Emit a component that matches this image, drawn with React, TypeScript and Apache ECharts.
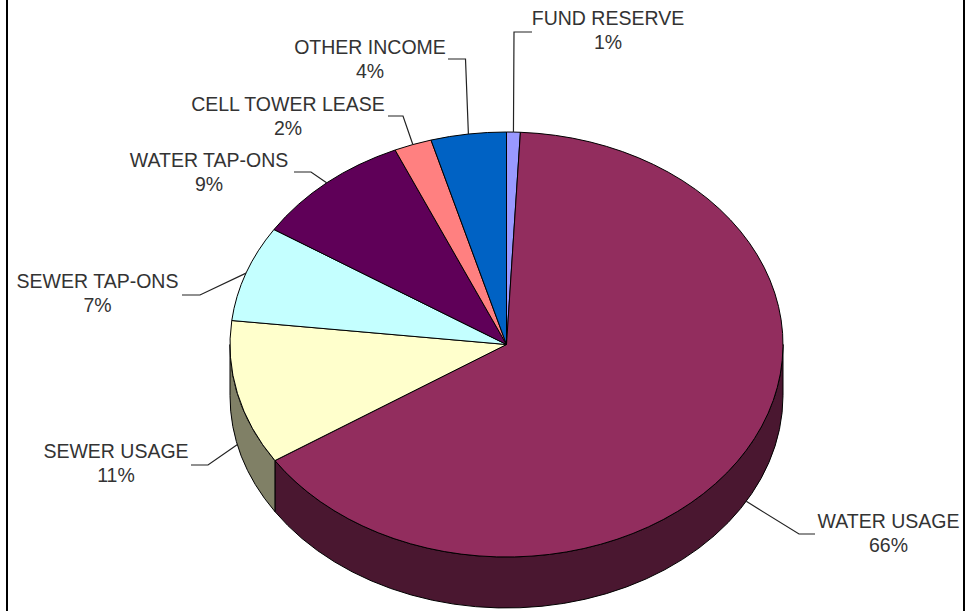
import React, { useEffect, useRef } from "react";
import * as echarts from "echarts";

const names = ["FUND RESERVE", "WATER USAGE", "SEWER USAGE", "SEWER TAP-ONS", "WATER TAP-ONS", "CELL TOWER LEASE", "OTHER INCOME"];
const shares = [0.8, 65, 11, 7.3, 9.3, 2.2, 4.4];
const pctLabels = ["1%", "66%", "11%", "7%", "9%", "2%", "4%"];
const topColors = ["#9999ff", "#922d5e", "#ffffcc", "#c4ffff", "#5f0058", "#ff8080", "#0062c4"];
const sideColors = ["#4c4c80", "#4a1730", "#808066", "#628080", "#30002c", "#804040", "#003162"];

// layout (pixels), separate from the data
const CX = 506.5, CY = 344.5, RX = 276.5, RY = 212.5, DEPTH = 51;
const labelCenters = [[608, 18], [888.5, 521], [116, 451], [97.5, 281], [209, 160], [288, 104], [370, 47]];
const LINE_GAP = 23.5;
// knee and end of each leader, the start comes from the slice's mid angle
const leaderTails = [
  [[514, 32], [532, 32]],
  [[799, 534], [815, 534]],
  [[208, 465], [191, 465]],
  [[200, 295], [182, 295]],
  [[311, 172], [294, 172]],
  [[403, 116], [388, 116]],
  [[465.5, 59], [448, 59]],
];
const FONT = "'Liberation Sans', Arial, sans-serif";

const total = shares.reduce((a, b) => a + b, 0);
const pt = (deg: number, dy = 0): [number, number] => {
  const t = (deg * Math.PI) / 180;
  return [CX + RX * Math.sin(t), CY - RY * Math.cos(t) + dy];
};
const arc = (to: number, dy: number, sweep: number, span: number) => {
  const p = pt(to, dy);
  return `A${RX} ${RY} 0 ${Math.abs(span) > 180 ? 1 : 0} ${sweep} ${p[0]} ${p[1]}`;
};

function renderItem(params: any, api: any) {
  const i = params.dataIndex;
  const before = shares.slice(0, i).reduce((a, b) => a + b, 0);
  const a0 = (before / total) * 360;
  const a1 = a0 + (api.value(0) / total) * 360;
  const mid = (a0 + a1) / 2;
  const children: any[] = [];

  const s0 = Math.max(a0, 90);
  const s1 = Math.min(a1, 270);
  if (s1 > s0) {
    const p0 = pt(s0), p1 = pt(s1, DEPTH);
    const d = `M${p0[0]} ${p0[1]}${arc(s1, 0, 1, s1 - s0)}L${p1[0]} ${p1[1]}${arc(s0, DEPTH, 0, s1 - s0)}Z`;
    children.push({
      type: "path",
      shape: { pathData: d },
      style: { fill: sideColors[i], stroke: "#000", lineWidth: 1 },
    });
  }
  const p = pt(a0);
  const top = `M${CX} ${CY}L${p[0]} ${p[1]}${arc(a1, 0, 1, a1 - a0)}Z`;
  children.push({
    type: "path",
    shape: { pathData: top },
    style: { fill: topColors[i], stroke: "#000", lineWidth: 1 },
  });

  const onFront = mid > 90 && mid < 270;
  const anchor = pt(mid, onFront ? DEPTH : 0);
  children.push({
    type: "polyline",
    shape: { points: [anchor, ...leaderTails[i]] },
    style: { fill: "none", stroke: "#222", lineWidth: 1.2 },
  });
  const [lx, ly] = labelCenters[i];
  [names[i], pctLabels[i]].forEach((text, k) => {
    children.push({
      type: "text",
      x: lx,
      y: ly + k * LINE_GAP,
      style: { text, fontSize: 19.5, fontFamily: FONT, fill: "#333", align: "center", verticalAlign: "middle" },
    });
  });
  return { type: "group", children };
}

export default function App() {
  const ref = useRef<HTMLDivElement>(null);
  useEffect(() => {
    const chart = echarts.init(ref.current!, null, { renderer: "svg" });
    chart.setOption({
      animation: false,
      backgroundColor: "#ffffff",
      graphic: [
        { type: "rect", shape: { x: 6, y: 0, width: 2, height: 611 }, style: { fill: "#000" } },
        { type: "rect", shape: { x: 963, y: 0, width: 2, height: 611 }, style: { fill: "#000" } },
      ],
      series: [
        {
          type: "custom",
          coordinateSystem: "none",
          silent: true,
          renderItem,
          data: shares.map((v, i) => ({ name: names[i], value: [v] })),
        },
      ],
    });
    return () => chart.dispose();
  }, []);
  return <div ref={ref} style={{ position: "fixed", left: 0, top: 0, width: 966, height: 611 }} />;
}
